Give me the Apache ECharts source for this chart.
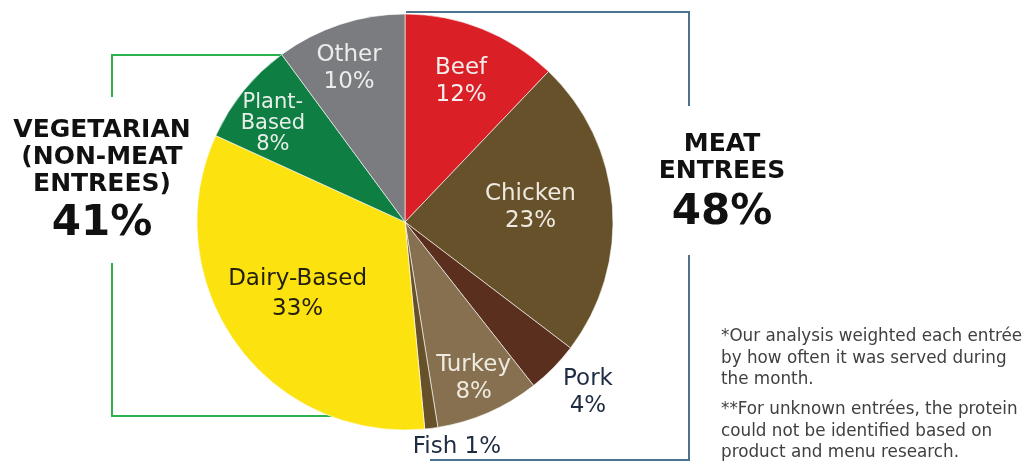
<!DOCTYPE html>
<html>
<head>
<meta charset="utf-8">
<script src="https://cdn.jsdelivr.net/npm/echarts@6/dist/echarts.min.js"></script>
<style>
html,body{margin:0;padding:0;background:#fff;}
#chart{width:1032px;height:462px;}
</style>
</head>
<body>
<div id="chart"></div>
<script>
// ---- data ----
const categories = ['Beef', 'Chicken', 'Pork', 'Turkey', 'Fish', 'Dairy-Based', 'Plant-Based', 'Other'];
const shares = [12, 23, 4, 8, 1, 33, 8, 10];
const groupTitles = ['VEGETARIAN\n(NON-MEAT\nENTREES)', 'MEAT\nENTREES'];
const groupShares = ['41%', '48%'];
const footnotes = [
  '*Our analysis weighted each entrée\nby how often it was served during\nthe month.',
  '**For unknown entrées, the protein\ncould not be identified based on\nproduct and menu research.'
];

// ---- styles ----
const sliceColors = ['#DA1F27', '#66512A', '#5B2F1D', '#86704F', '#66512A', '#FCE20F', '#0E7E43', '#7B7C80'];
const labelColors = ['#F2ECEA', '#EEEAE0', '#1E2C42', '#EEEAE0', '#1E2C42', '#231F10', '#E8EFEA', '#ECECEC'];
const labelBreaks = ['\n', '\n', '\n', '\n', ' ', '\n', '\n', '\n'];
const displayNames = ['Beef', 'Chicken', 'Pork', 'Turkey', 'Fish', 'Dairy-Based', 'Plant-\nBased', 'Other'];
const labelFontSizes = [23, 23, 23, 23, 23, 23, 21, 23];
const labelLineHeights = [27, 27, 27, 27, 27, 30, 21, 27];
// label placement relative to library's inside position: radius factor, angle shift (deg)
const labelRadiusFactor = [1.41, 1.18, 2.34, 1.6, 2.16, 1.21, 1.54, 1.53];
const labelAngleShift = [0, -2, -1.5, 0, -5.7, 1.5, -2.4, -1.8];

const CX = 405, CY = 222, R = 208;
const FONT = 'DejaVu Sans';

const chart = echarts.init(document.getElementById('chart'), null, {renderer: 'canvas'});

const green = '#2BB24C';
const blue = '#4B7390';

chart.setOption({
  animation: false,
  backgroundColor: '#ffffff',
  graphic: [
    // green bracket
    {type: 'polyline', z: 0, shape: {points: [[300, 55], [112, 55], [112, 97]]}, style: {stroke: green, lineWidth: 2, fill: null}},
    {type: 'polyline', z: 0, shape: {points: [[112, 263], [112, 416], [340, 416]]}, style: {stroke: green, lineWidth: 2, fill: null}},
    // blue bracket
    {type: 'polyline', z: 0, shape: {points: [[406, 12], [689, 12], [689, 106]]}, style: {stroke: blue, lineWidth: 2, fill: null}},
    {type: 'polyline', z: 0, shape: {points: [[689, 255], [689, 460], [430, 460]]}, style: {stroke: blue, lineWidth: 2, fill: null}},
    // group titles
    {type: 'text', z: 10, style: {
      text: groupTitles[0], x: 102, y: 117, align: 'center', verticalAlign: 'top',
      font: 'bold 25px "' + FONT + '"', lineHeight: 27, fill: '#111'}},
    {type: 'text', z: 10, style: {
      text: groupShares[0], x: 102, y: 224, align: 'center', verticalAlign: 'middle',
      font: 'bold 42px "' + FONT + '"', fill: '#111'}},
    {type: 'text', z: 10, style: {
      text: groupTitles[1], x: 722, y: 131, align: 'center', verticalAlign: 'top',
      font: 'bold 25px "' + FONT + '"', lineHeight: 27, fill: '#111'}},
    {type: 'text', z: 10, style: {
      text: groupShares[1], x: 722, y: 213, align: 'center', verticalAlign: 'middle',
      font: 'bold 42px "' + FONT + '"', fill: '#111'}},
    // footnotes
    {type: 'text', z: 10, style: {
      text: footnotes[0], x: 721, y: 326, align: 'left', verticalAlign: 'top',
      font: '16.8px "' + FONT + '"', lineHeight: 21.5, fill: '#404040'}},
    {type: 'text', z: 10, style: {
      text: footnotes[1], x: 721, y: 399, align: 'left', verticalAlign: 'top',
      font: '16.8px "' + FONT + '"', lineHeight: 21.5, fill: '#404040'}}
  ],
  series: [{
    type: 'pie',
    z: 5,
    center: [CX, CY],
    radius: [0, R],
    startAngle: 90,
    clockwise: true,
    avoidLabelOverlap: false,
    itemStyle: {borderColor: 'rgba(255,255,255,0.75)', borderWidth: 0.8},
    label: {
      show: true,
      position: 'inside',
      fontFamily: FONT,
      fontSize: 23,
      lineHeight: 27,
      align: 'center',
      formatter: function (p) {
        return displayNames[p.dataIndex] + labelBreaks[p.dataIndex] + p.value + '%';
      }
    },
    labelLine: {show: false},
    emphasis: {disabled: true},
    labelLayout: function (params) {
      const i = params.dataIndex;
      const lr = params.labelRect;
      const lx = lr.x + lr.width / 2 - CX;
      const ly = lr.y + lr.height / 2 - CY;
      const r = Math.sqrt(lx * lx + ly * ly) * labelRadiusFactor[i];
      const a = Math.atan2(ly, lx) + labelAngleShift[i] * Math.PI / 180;
      return {x: CX + r * Math.cos(a), y: CY + r * Math.sin(a)};
    },
    data: categories.map(function (name, i) {
      return {
        name: name,
        value: shares[i],
        itemStyle: {color: sliceColors[i]},
        label: {color: labelColors[i], fontSize: labelFontSizes[i], lineHeight: labelLineHeights[i]}
      };
    })
  }]
});
</script>
</body>
</html>
